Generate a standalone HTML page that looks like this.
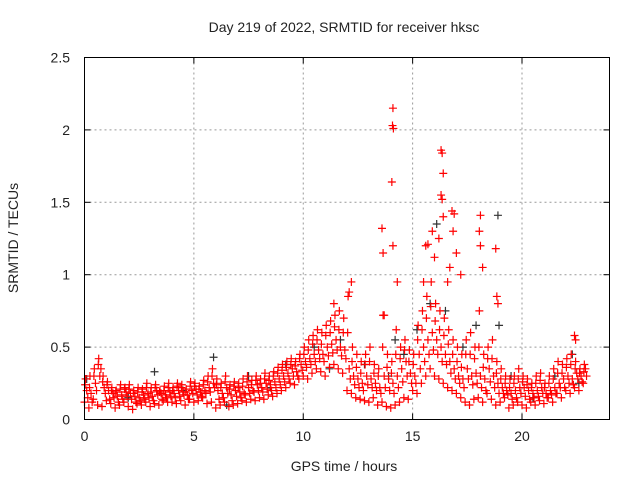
<!DOCTYPE html>
<html><head><meta charset="utf-8"><style>
body{margin:0;background:#fff}
svg{display:block;font-family:"Liberation Sans",sans-serif}
</style></head><body>
<svg id="chart" width="640" height="480" viewBox="0 0 640 480" xmlns="http://www.w3.org/2000/svg">
<rect width="640" height="480" fill="#fff"/>
<g id="grid"></g>
<g id="pts"></g>
<rect x="84.5" y="57.5" width="525" height="362" fill="none" stroke="#000" stroke-width="1"/>
<g id="ticks" font-size="14" fill="#222"></g>
<text x="344" y="32" text-anchor="middle" font-size="14" fill="#222">Day 219 of 2022, SRMTID for receiver hksc</text>
<text x="344" y="471" text-anchor="middle" font-size="14" fill="#222">GPS time / hours</text>
<text transform="translate(18,238) rotate(-90)" text-anchor="middle" font-size="14" fill="#222">SRMTID / TECUs</text>
</svg>
<script>
const xTicks=[0,5,10,15,20];
const yTicks=[0,0.5,1,1.5,2,2.5];
const yTickLabels=["0","0.5","1","1.5","2","2.5"];
const hours=[0,0.2,0.4,0.6,0.8,1,1.2,1.4,1.6,1.8,2,2.2,2.4,2.6,2.8,3,3.2,3.4,3.6,3.8,4,4.2,4.4,4.6,4.8,5,5.2,5.4,5.6,5.8,6,6.2,6.4,6.6,6.8,7,7.2,7.4,7.6,7.8,8,8.2,8.4,8.6,8.8,9,9.2,9.4,9.6,9.8,10,10.2,10.4,10.6,10.8,11,11.2,11.4,11.6,11.8,12,12.2,12.4,12.6,12.8,13,13.2,13.4,13.6,13.8,14,14.2,14.4,14.6,14.8,15,15.2,15.4,15.6,15.8,16,16.2,16.4,16.6,16.8,17,17.2,17.4,17.6,17.8,18,18.2,18.4,18.6,18.8,19,19.2,19.4,19.6,19.8,20,20.2,20.4,20.6,20.8,21,21.2,21.4,21.6,21.8,22,22.2,22.4,22.6,22.8];
const redLow=[.12,.08,.14,.10,.09,.13,.11,.08,.10,.12,.09,.07,.11,.10,.12,.09,.11,.10,.13,.12,.12,.11,.13,.10,.14,.12,.13,.15,.11,.12,.08,.10,.12,.09,.10,.11,.13,.12,.14,.13,.15,.14,.17,.16,.18,.20,.22,.25,.24,.28,.30,.28,.32,.35,.33,.30,.36,.38,.35,.32,.20,.18,.15,.14,.13,.12,.15,.10,.12,.09,.08,.10,.12,.15,.14,.20,.18,.25,.30,.35,.30,.28,.25,.22,.20,.18,.15,.12,.10,.14,.15,.12,.18,.14,.10,.12,.15,.08,.10,.12,.10,.08,.12,.10,.13,.11,.15,.12,.18,.15,.20,.18,.22,.20,.25];
const redLowMid=[.15,.12,.20,.35,.18,.14,.15,.12,.14,.16,.14,.12,.13,.14,.15,.13,.17,.14,.15,.16,.15,.16,.17,.14,.18,.17,.16,.18,.19,.22,.14,.15,.18,.13,.16,.15,.17,.18,.19,.20,.19,.21,.20,.22,.24,.26,.28,.30,.30,.34,.36,.38,.40,.42,.40,.44,.46,.48,.44,.42,.28,.24,.22,.20,.24,.22,.20,.18,.22,.20,.18,.22,.26,.30,.25,.25,.35,.40,.45,.48,.45,.40,.38,.32,.28,.25,.22,.28,.24,.25,.22,.20,.26,.22,.18,.18,.17,.14,.15,.18,.16,.14,.15,.16,.18,.15,.17,.18,.22,.22,.25,.24,.28,.26,.30];
const redMid=[.20,.18,.25,.30,.22,.20,.18,.16,.17,.19,.18,.16,.15,.17,.18,.16,.20,.18,.17,.19,.18,.20,.19,.17,.20,.21,.19,.20,.22,.25,.20,.18,.22,.17,.20,.19,.18,.22,.20,.24,.22,.25,.24,.26,.28,.30,.32,.35,.33,.38,.40,.42,.45,.48,.45,.50,.52,.55,.50,.48,.35,.30,.28,.25,.30,.28,.25,.22,.30,.28,.25,.30,.35,.40,.32,.30,.45,.50,.55,.60,.55,.50,.45,.40,.35,.30,.28,.35,.30,.32,.30,.28,.35,.30,.25,.22,.20,.18,.20,.22,.22,.20,.18,.20,.22,.18,.20,.22,.25,.28,.30,.28,.32,.30,.35];
const redMidHigh=[.24,.22,.30,.38,.26,.24,.20,.19,.21,.21,.21,.18,.19,.19,.22,.19,.22,.19,.20,.22,.20,.23,.22,.19,.23,.23,.21,.24,.26,.30,.24,.22,.26,.21,.23,.22,.23,.26,.24,.27,.25,.28,.27,.30,.32,.34,.36,.38,.37,.42,.45,.48,.52,.55,.52,.58,.60,.64,.62,.60,.60,.40,.36,.32,.38,.40,.32,.30,.50,.36,.32,.45,.42,.48,.40,.38,.55,.62,.70,.78,.68,.62,.58,.52,.45,.40,.36,.45,.45,.42,.50,.36,.42,.42,.32,.28,.25,.22,.25,.28,.26,.24,.22,.25,.27,.22,.25,.28,.32,.32,.36,.38,.35,.32,.33];
const redHigh=[.28,.30,.35,.42,.30,.26,.22,.20,.24,.22,.24,.20,.22,.21,.25,.22,.24,.20,.23,.25,.22,.25,.24,.21,.26,.25,.23,.27,.30,.35,.28,.25,.30,.24,.26,.25,.28,.30,.27,.30,.28,.32,.30,.33,.36,.38,.40,.42,.40,.45,.50,.55,.58,.62,.60,.65,.68,.72,.75,.70,.85,.50,.45,.40,.45,.50,.38,.35,.72,.45,.40,.62,.50,.55,.48,.45,.65,.75,.85,.95,.80,.75,.70,.62,.55,.50,.45,.55,.60,.50,.75,.45,.50,.55,.40,.35,.30,.28,.30,.35,.30,.28,.25,.30,.32,.25,.30,.35,.40,.38,.42,.45,.40,.35,.38];
const redOutlierHours=[13.6,13.65,14.1,14.08,14.12,14.05,14.1,14.3,15.6,15.7,15.9,16.0,16.2,16.3,16.35,16.3,16.35,16.4,16.4,16.8,16.9,16.85,17.0,16.7,18.1,18.05,18.1,18.2,18.8,18.85,18.9,12.2,12.1,11.4,22.4,22.45,17.2,16.6,15.5,13.7];
const redOutlierValues=[1.32,1.15,2.15,2.03,2.01,1.64,1.2,0.95,1.2,1.21,1.3,1.12,1.25,1.86,1.84,1.55,1.52,1.7,1.4,1.44,1.42,1.3,1.15,1.05,1.41,1.3,1.2,1.05,1.18,0.85,0.8,0.95,0.88,0.8,0.58,0.55,1.0,0.95,0.95,0.72];
const blackHours=[0.1,3.2,5.9,7.5,9.2,10.5,11.7,12.8,13.9,14.2,14.6,15.2,15.8,16.1,16.5,17.3,17.9,18.9,18.95,19.5,20.5,21.5,22.3,22.6,2.0,4.5,6.5,8.5,11.2];
const blackValues=[0.28,0.33,0.43,0.3,0.38,0.5,0.55,0.38,0.3,0.55,0.45,0.62,0.8,1.35,0.75,0.5,0.65,1.41,0.65,0.3,0.15,0.3,0.45,0.25,0.15,0.2,0.1,0.22,0.35];

const X0=84.5,X1=609.5,Y0=419.5,Y1=57.5;
const xS=v=>X0+v/24*(X1-X0);
const yS=v=>Y0-v/2.5*(Y0-Y1);
const NS="http://www.w3.org/2000/svg";
const grid=document.getElementById('grid'),ticks=document.getElementById('ticks'),pts=document.getElementById('pts');
function ln(p,x1,y1,x2,y2,st,dash){const l=document.createElementNS(NS,'line');l.setAttribute('x1',x1);l.setAttribute('y1',y1);l.setAttribute('x2',x2);l.setAttribute('y2',y2);l.setAttribute('stroke',st);if(dash)l.setAttribute('stroke-dasharray',dash);p.appendChild(l);return l;}
function tx(p,x,y,s,a){const t=document.createElementNS(NS,'text');t.setAttribute('x',x);t.setAttribute('y',y);t.setAttribute('text-anchor',a);t.textContent=s;p.appendChild(t);return t;}
xTicks.forEach(v=>{const x=xS(v);
 if(v>0){const g=ln(grid,x,Y0,x,Y1,'#999','2,3');
 
 }
 ln(ticks,x,Y0,x,Y0-6,'#000');ln(ticks,x,Y1,x,Y1+6,'#000');
 const t=tx(ticks,x,441,String(v),'middle');
 
 });
yTicks.forEach((v,i)=>{const y=yS(v);
 if(v>0&&v<2.5){const g=ln(grid,X0,y,X1,y,'#999','2,3');
 
 }
 ln(ticks,X0,y,X0+6,y,'#000');ln(ticks,X1,y,X1-6,y,'#000');
 const t=tx(ticks,70,y+5,yTickLabels[i],'end');
 
 });
function plus(t,v,col){const x=xS(t),y=yS(v);const p=document.createElementNS(NS,'path');
 p.setAttribute('d',`M${x-4} ${y}H${x+4}M${x} ${y-4}V${y+4}`);p.setAttribute('stroke',col);p.setAttribute('stroke-width','1.2');p.setAttribute('fill','none');
 
 
 pts.appendChild(p);}
blackHours.forEach((t,i)=>plus(t,blackValues[i],'#333'));
hours.forEach((t,i)=>{
 plus(t,redLow[i],'#f00');
 plus(t+0.15,redLowMid[i],'#f00');
 plus(t+0.1,redMid[i],'#f00');
 plus(t+0.03,redMidHigh[i],'#f00');
 plus(t+0.05,redHigh[i],'#f00');});
redOutlierHours.forEach((t,i)=>plus(t,redOutlierValues[i],'#f00'));
</script>
</body></html>
